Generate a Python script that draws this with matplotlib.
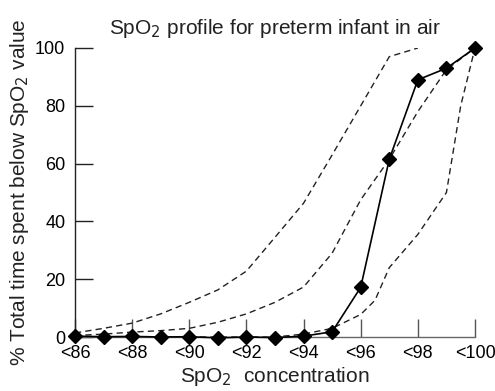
import matplotlib
matplotlib.use("Agg")
import matplotlib.pyplot as plt

plt.rcParams['font.family'] = ['Liberation Sans', 'DejaVu Sans']

# Measured profile (solid line with diamonds)
spo2 = [86, 87, 88, 89, 90, 91, 92, 93, 94, 95, 96, 97, 98, 99, 100]
measured = [0.3, 0.1, 0.2, 0.0, 0.1, -0.3, 0.0, -0.2, 0.3, 1.8, 17.2, 61.5, 89.0, 93.0, 100.0]

# Reference centile curves (dashed)
upper_x = [86, 87, 88, 89, 90, 91, 92, 93, 94, 95, 96, 97, 98]
upper_y = [1.4, 3.0, 4.8, 8.0, 12.0, 16.3, 22.8, 34.5, 46.3, 63.0, 80.0, 97.0, 100.0]

middle_x = [86, 87, 88, 89, 90, 91, 92, 93, 94, 95, 96, 97, 98, 99, 100]
middle_y = [0.5, 1.0, 1.7, 2.2, 3.0, 5.1, 8.0, 12.0, 17.3, 29.0, 47.5, 61.5, 78.0, 92.5, 100.0]

lower_x = [86, 88, 90, 92, 93, 94, 95, 96, 96.5, 97, 98, 99, 99.5, 100]
lower_y = [0.0, 0.0, 0.0, 0.0, 0.0, 1.0, 3.0, 7.8, 12.7, 24.0, 35.5, 50.0, 80.0, 100.0]

xticks = [86, 88, 90, 92, 94, 96, 98, 100]
xticklabels = ['<86', '<88', '<90', '<92', '<94', '<96', '<98', '<100']
yticks = [0, 20, 40, 60, 80, 100]

fig = plt.figure(figsize=(4.95, 3.91), dpi=100)
ax = fig.add_axes([75/495, 1 - 337/391, 400/495, (337 - 48)/391])

dash = dict(color='#222222', lw=1.0, ls=(0, (4.5, 3)))
ax.plot(upper_x, upper_y, **dash)
ax.plot(middle_x, middle_y, **dash)
ax.plot(lower_x, lower_y, **dash)
ax.plot(spo2, measured, color='black', lw=1.2, marker='D', ms=7.5,
        mfc='black', mec='black', clip_on=False, zorder=5)

ax.set_xlim(86, 100)
ax.set_ylim(0, 100)
ax.set_xticks(xticks)
ax.set_xticklabels(xticklabels)
ax.set_yticks(yticks)

for s in ['top', 'right']:
    ax.spines[s].set_visible(False)
ax.spines['left'].set_color('#222222')
ax.spines['bottom'].set_color('#666666')
ax.spines['left'].set_linewidth(1.0)
ax.spines['bottom'].set_linewidth(1.0)

ax.tick_params(axis='x', direction='in', length=13, width=1, color='#555555',
               labelsize=13, pad=6)
ax.tick_params(axis='y', direction='in', length=13, width=1, color='#222222',
               labelsize=13, pad=7)

ax.set_title('SpO$_2$ profile for preterm infant in air', fontsize=15, pad=10,
             color='#222222')
ax.set_xlabel('SpO$_2$  concentration', fontsize=15, labelpad=2, color='#222222')
ax.set_ylabel('% Total time spent below SpO$_2$ value', fontsize=15,
              labelpad=3, color='#222222')

fig.savefig('out.png', dpi=100)
